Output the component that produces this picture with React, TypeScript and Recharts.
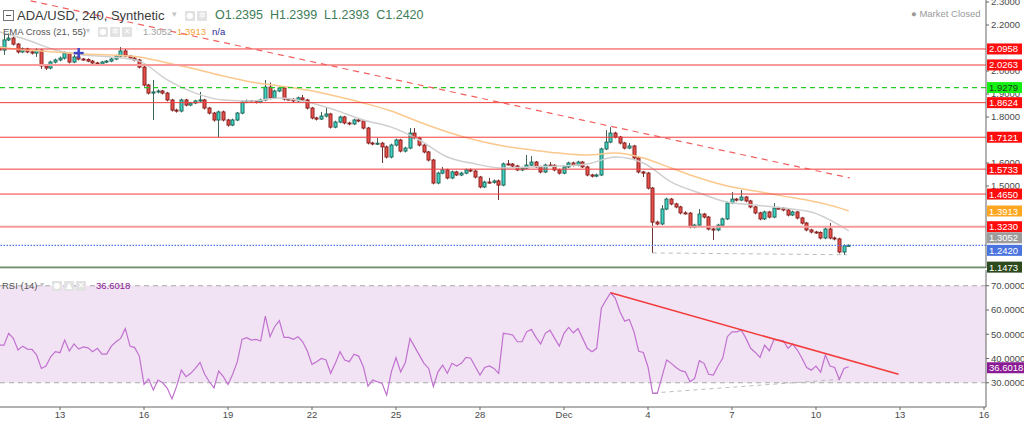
import React from "react";
import {
  ComposedChart,
  Bar,
  Line,
  XAxis,
  YAxis,
  ReferenceLine,
  ReferenceArea,
  ReferenceDot,
} from "recharts";

const FONT = "'Liberation Sans', Arial, sans-serif";

// time axis in days of November (Dec 1 = 31), one candle every 240 minutes
const START_DAY = 10 + 20 / 24;
const BAR_DAYS = 4 / 24;
const dayTicks = [13, 16, 19, 22, 25, 28, 31, 34, 37, 40, 43, 46];
// only the price ticks the scale shows (the others sit under price tags)
const priceTicks = [1.5, 1.6, 1.8, 1.9, 2.0, 2.2, 2.3];
const rsiTicks = [30, 40, 50, 60, 70];

// continuous market: each open is the previous close
const firstOpen = 2.104;
const closes = [
  2.091, 2.135, 2.143, 2.117, 2.083, 2.096, 2.083, 2.078, 2.091, 2.022,
  2.013, 2.039, 2.048, 2.056, 2.078, 2.039, 2.061, 2.052, 2.05, 2.043,
  2.035, 2.03, 2.039, 2.043, 2.052, 2.065, 2.087, 2.065, 2.056, 2.048,
  2.017, 1.939, 1.904, 1.909, 1.913, 1.904, 1.874, 1.83, 1.826, 1.874,
  1.852, 1.861, 1.87, 1.874, 1.839, 1.817, 1.787, 1.822, 1.787, 1.765,
  1.787, 1.817, 1.865, 1.87, 1.868, 1.865, 1.874, 1.93, 1.883, 1.913,
  1.926, 1.878, 1.877, 1.87, 1.883, 1.874, 1.839, 1.796, 1.791, 1.804,
  1.813, 1.756, 1.778, 1.8, 1.774, 1.77, 1.787, 1.783, 1.752, 1.687,
  1.683, 1.686, 1.67, 1.626, 1.678, 1.7, 1.652, 1.665, 1.73, 1.709,
  1.678, 1.648, 1.613, 1.513, 1.556, 1.57, 1.535, 1.561, 1.548, 1.556,
  1.57, 1.565, 1.539, 1.496, 1.517, 1.516, 1.522, 1.504, 1.596, 1.595,
  1.587, 1.57, 1.578, 1.591, 1.604, 1.583, 1.561, 1.591, 1.59, 1.57,
  1.556, 1.583, 1.6, 1.591, 1.604, 1.583, 1.548, 1.543, 1.548, 1.661,
  1.691, 1.73, 1.713, 1.687, 1.665, 1.674, 1.622, 1.561, 1.556, 1.491,
  1.343, 1.335, 1.4, 1.443, 1.422, 1.409, 1.383, 1.382, 1.322, 1.33,
  1.378, 1.365, 1.313, 1.309, 1.33, 1.357, 1.426, 1.443, 1.439, 1.452,
  1.435, 1.409, 1.383, 1.357, 1.387, 1.365, 1.404, 1.403, 1.396, 1.374,
  1.387, 1.361, 1.339, 1.309, 1.3, 1.298, 1.274, 1.313, 1.274, 1.27,
  1.213, 1.24, 1.242,
];
const highs = [
  2.11, 2.157, 2.165, 2.15, 2.122, 2.102, 2.101, 2.089, 2.098, 2.096,
  2.028, 2.045, 2.054, 2.063, 2.087, 2.083, 2.07, 2.066, 2.057, 2.055,
  2.048, 2.04, 2.044, 2.048, 2.058, 2.072, 2.104, 2.095, 2.07, 2.061,
  2.053, 2.022, 1.944, 1.961, 1.92, 1.918, 1.909, 1.879, 1.836, 1.88,
  1.879, 1.866, 1.875, 1.909, 1.879, 1.844, 1.822, 1.828, 1.828, 1.792,
  1.793, 1.822, 1.871, 1.876, 1.874, 1.872, 1.88, 1.961, 1.95, 1.919,
  1.932, 1.931, 1.883, 1.882, 1.889, 1.896, 1.879, 1.844, 1.801, 1.822,
  1.839, 1.818, 1.784, 1.806, 1.805, 1.779, 1.793, 1.792, 1.788, 1.757,
  1.692, 1.709, 1.692, 1.676, 1.684, 1.706, 1.705, 1.671, 1.752, 1.752,
  1.714, 1.683, 1.653, 1.618, 1.562, 1.583, 1.575, 1.567, 1.566, 1.562,
  1.576, 1.576, 1.57, 1.544, 1.523, 1.535, 1.528, 1.528, 1.602, 1.613,
  1.6, 1.592, 1.584, 1.635, 1.63, 1.609, 1.588, 1.597, 1.604, 1.595,
  1.575, 1.589, 1.606, 1.606, 1.61, 1.609, 1.588, 1.553, 1.554, 1.667,
  1.743, 1.756, 1.736, 1.718, 1.692, 1.687, 1.679, 1.627, 1.566, 1.561,
  1.496, 1.349, 1.417, 1.449, 1.448, 1.427, 1.414, 1.39, 1.387, 1.336,
  1.4, 1.383, 1.37, 1.318, 1.336, 1.363, 1.432, 1.474, 1.448, 1.483,
  1.457, 1.44, 1.414, 1.388, 1.393, 1.392, 1.426, 1.41, 1.408, 1.401,
  1.393, 1.392, 1.366, 1.344, 1.314, 1.305, 1.303, 1.319, 1.339, 1.28,
  1.275, 1.246, 1.246,
];
const lows = [
  2.085, 2.07, 2.13, 2.111, 2.076, 2.078, 2.077, 2.072, 2.061, 2.009,
  2.004, 2.007, 2.033, 2.042, 2.05, 2.033, 2.034, 2.046, 2.044, 2.038,
  2.03, 2.024, 2.024, 2.034, 2.038, 2.047, 2.06, 2.06, 2.05, 2.042,
  2.011, 1.932, 1.898, 1.787, 1.903, 1.898, 1.868, 1.824, 1.819, 1.82,
  1.846, 1.847, 1.856, 1.865, 1.833, 1.811, 1.78, 1.713, 1.781, 1.758,
  1.76, 1.782, 1.812, 1.86, 1.862, 1.859, 1.86, 1.869, 1.877, 1.878,
  1.908, 1.872, 1.872, 1.864, 1.865, 1.869, 1.833, 1.79, 1.785, 1.787,
  1.798, 1.75, 1.751, 1.773, 1.768, 1.764, 1.765, 1.777, 1.746, 1.681,
  1.677, 1.678, 1.6, 1.62, 1.62, 1.672, 1.646, 1.646, 1.66, 1.703,
  1.672, 1.642, 1.607, 1.507, 1.508, 1.551, 1.529, 1.53, 1.543, 1.543,
  1.551, 1.56, 1.533, 1.49, 1.491, 1.511, 1.51, 1.439, 1.499, 1.589,
  1.582, 1.565, 1.565, 1.573, 1.586, 1.578, 1.555, 1.556, 1.585, 1.564,
  1.55, 1.551, 1.578, 1.585, 1.586, 1.578, 1.542, 1.537, 1.538, 1.543,
  1.656, 1.686, 1.707, 1.681, 1.659, 1.66, 1.616, 1.555, 1.539, 1.485,
  1.209, 1.329, 1.33, 1.395, 1.416, 1.403, 1.377, 1.376, 1.316, 1.316,
  1.325, 1.359, 1.307, 1.265, 1.303, 1.325, 1.352, 1.421, 1.433, 1.434,
  1.429, 1.403, 1.377, 1.351, 1.352, 1.359, 1.36, 1.397, 1.39, 1.368,
  1.369, 1.355, 1.333, 1.303, 1.294, 1.292, 1.268, 1.269, 1.268, 1.264,
  1.207, 1.2, 1.238,
];
const rsi14 = [
  45.5, 45.5, 50.4, 48.3, 43.5, 45.1, 43.9, 43.8, 41.4, 35.9,
  36.9, 40.7, 42.8, 42.4, 47.6, 43.1, 46.0, 43.9, 44.8, 44.4,
  42.8, 44.2, 41.8, 41.8, 45.1, 46.9, 48.3, 52.4, 45.1, 44.5,
  41.0, 29.3, 31.5, 27.0, 31.1, 30.0, 27.7, 23.3, 28.6, 35.2,
  32.5, 33.9, 35.9, 38.4, 33.5, 30.4, 27.9, 34.8, 32.5, 29.3,
  33.5, 38.7, 47.9, 48.6, 47.6, 47.9, 47.2, 57.5, 49.0, 53.1,
  55.6, 48.7, 48.7, 47.9, 49.0, 46.9, 43.1, 37.6, 38.7, 40.0,
  39.4, 33.9, 38.0, 42.8, 39.4, 38.7, 41.8, 41.0, 36.6, 28.6,
  31.1, 30.4, 29.8, 24.9, 34.5, 40.3, 34.5, 38.3, 48.3, 44.8,
  41.4, 38.0, 35.9, 28.4, 34.5, 37.3, 33.9, 38.0, 36.9, 38.0,
  40.5, 40.1, 36.6, 33.2, 36.3, 36.9, 35.9, 33.9, 50.4, 50.1,
  49.7, 46.9, 46.9, 51.0, 52.0, 48.7, 46.0, 50.4, 51.7, 48.3,
  45.1, 50.4, 52.8, 50.6, 52.4, 48.3, 44.2, 42.8, 44.2, 60.7,
  64.1, 67.1, 64.8, 59.3, 55.4, 56.1, 51.0, 43.0, 42.5, 36.5,
  25.6, 25.6, 32.5, 39.4, 38.0, 36.3, 35.0, 34.5, 30.4, 31.8,
  39.1, 38.0, 33.5, 33.2, 36.9, 40.1, 49.0, 51.0, 51.0, 51.7,
  48.3, 44.2, 42.5, 40.5, 45.5, 43.2, 47.9, 47.6, 47.3, 44.2,
  46.0, 43.5, 40.1, 36.3, 35.2, 36.9, 34.4, 41.4, 36.9, 36.3,
  31.4, 35.9, 36.6,
];

// EMA readings, taken every sixth candle
const emaAt = [
  0, 6, 12, 18, 24, 30, 36, 42, 48, 54, 60, 66, 72, 78, 84, 90,
  96, 102, 108, 114, 120, 126, 132, 138, 144, 150, 156, 162, 168, 174, 180, 182,
];
const ema21 = [
  2.17, 2.135, 2.091, 2.07, 2.061, 2.043, 1.961, 1.904, 1.874, 1.87, 1.883, 1.865, 1.83, 1.787, 1.756, 1.7,
  1.626, 1.596, 1.578, 1.583, 1.587, 1.596, 1.626, 1.6, 1.517, 1.47, 1.43, 1.417, 1.404, 1.387, 1.33, 1.3052,
];
const ema55 = [
  2.104, 2.091, 2.083, 2.074, 2.07, 2.061, 2.035, 2.009, 1.978, 1.952, 1.935, 1.917, 1.891, 1.861, 1.826, 1.778,
  1.735, 1.7, 1.674, 1.657, 1.643, 1.635, 1.643, 1.622, 1.578, 1.535, 1.5, 1.478, 1.456, 1.435, 1.405, 1.3913,
];

const redLevels = [2.0958, 1.8624, 1.7121, 1.5733, 1.465];
const pinkLevels = [2.0263, 1.323];
const greenLevel = 1.9279;
const lastPrice = 1.242;
const baseLevel = 1.1473;
const lastRsi = 36.6018;
const emaCross = { day: 13.667, price: 2.078 };

// trend lines as (day, value) end points
const priceTrend = [{ x: 11.95, y: 2.305 }, { x: 41.21, y: 1.535 }];
const priceSupport = [{ x: 34.17, y: 1.209 }, { x: 41.1, y: 1.201 }];
const rsiTrend = [{ x: 32.667, y: 67.1 }, { x: 42.95, y: 33.5 }];
const rsiSupport = [{ x: 34.2, y: 25.8 }, { x: 40.85, y: 31.4 }];

const W = 1024;
const H_MAIN = 268;
const H_RSI = 154;
const AXIS_W = 38;
const X_MIN = 13 - 60 / 28;
const X_MAX = 13 + 926 / 28;
const PRICE_DOMAIN: [number, number] = [1.1435, 2.3087];
const RSI_DOMAIN: [number, number] = [20, 76.5];

const candles = closes.map((c, i) => ({
  t: START_DAY + i * BAR_DAYS,
  open: i === 0 ? firstOpen : closes[i - 1],
  close: c,
  high: highs[i],
  low: lows[i],
  range: [lows[i], highs[i]],
  rsi: rsi14[i],
}));
const emaData = emaAt.map((k, j) => ({
  t: START_DAY + k * BAR_DAYS,
  e21: ema21[j],
  e55: ema55[j],
}));

const dayLabel = (d: number) => (d === 31 ? "Dec" : d > 31 ? String(d - 30) : String(d));

function Candle(props: any) {
  const { x, y, width, height, payload } = props;
  if (!payload || x == null || y == null) return null;
  const top = height < 0 ? y + height : y;
  const h = Math.abs(height);
  const { open, close, high, low } = payload;
  const span = high - low || 1e-6;
  const py = (v: number) => top + ((high - v) / span) * h;
  const up = close >= open;
  const cx = Math.round(x + width / 2) + 0.5;
  const bTop = py(Math.max(open, close));
  const bH = Math.max(1, py(Math.min(open, close)) - bTop);
  return (
    <g>
      <line x1={cx} x2={cx} y1={top} y2={top + h} stroke={up ? "#3b6657" : "#6e3434"} strokeWidth={1} />
      <rect
        x={cx - 1.5}
        y={bTop}
        width={3}
        height={bH}
        fill={up ? "#3fd5c6" : "#e5504b"}
        stroke={up ? "#21695a" : "#8c2424"}
        strokeWidth={1}
      />
    </g>
  );
}

// price-scale tag; dy pushes a tag down when it would collide with its neighbour
const tag = (text: string, bg: string, fg = "#fff", dy = 0, w = AXIS_W - 3) => (p: any) => {
  const vb = p && p.viewBox;
  if (!vb) return null;
  const x0 = vb.x + vb.width + 1;
  const cy = vb.y + dy;
  return (
    <g>
      <rect x={x0} y={cy - 5.5} width={w} height={11} fill={bg} />
      <text x={x0 + 2} y={cy + 3.5} fontSize={9.5} fill={fg} fontFamily={FONT}>
        {text}
      </text>
    </g>
  );
};

function Cross(props: any) {
  const { cx, cy } = props;
  if (cx == null) return null;
  return (
    <g stroke="#3f46c8" strokeWidth={2.5}>
      <line x1={cx - 5} x2={cx + 5} y1={cy} y2={cy} />
      <line x1={cx} x2={cx} y1={cy - 5} y2={cy + 5} />
    </g>
  );
}

function Icon({ left, top, glyph }: { left: number; top: number; glyph: string }) {
  return (
    <div
      style={{
        position: "absolute",
        left,
        top,
        width: 10,
        height: 10,
        background: "#e2e2e2",
        borderRadius: 1,
        color: "#fff",
        fontSize: 8,
        lineHeight: "10px",
        textAlign: "center",
        fontFamily: "'DejaVu Sans', sans-serif",
      }}
    >
      {glyph}
    </div>
  );
}

const txt = (left: number, top: number, size: number, color: string): React.CSSProperties => ({
  position: "absolute",
  left,
  top,
  fontSize: size,
  lineHeight: `${size + 2}px`,
  color,
  whiteSpace: "nowrap",
  fontFamily: FONT,
});

const overlay: React.CSSProperties = { position: "absolute", left: 0, pointerEvents: "none" };

export default function App() {
  const tickStyle = { fontSize: 9.5, fill: "#4a4a4a", fontFamily: FONT };
  const lastE55 = ema55[ema55.length - 1];
  const lastE21 = ema21[ema21.length - 1];
  return (
    <div style={{ position: "absolute", left: 0, top: 0, width: W, height: 422, background: "#fff", overflow: "hidden" }}>
      {/* price pane */}
      <div style={{ position: "absolute", left: 0, top: 0 }}>
        <ComposedChart width={W} height={H_MAIN} data={candles} margin={{ top: 0, right: 0, bottom: 0, left: 0 }}>
          <XAxis dataKey="t" type="number" domain={[X_MIN, X_MAX]} allowDataOverflow hide />
          <YAxis
            orientation="right"
            width={AXIS_W}
            domain={PRICE_DOMAIN}
            allowDataOverflow
            ticks={priceTicks}
            interval={0}
            tickFormatter={(v: number) => v.toFixed(4)}
            tick={tickStyle}
            tickSize={3}
            tickMargin={2}
            stroke="#666"
          />
          <Bar dataKey="range" shape={<Candle />} barSize={4} isAnimationActive={false} />
          <Line data={emaData} dataKey="e21" type="monotone" stroke="#cfcfcf" strokeWidth={1.5} dot={false} isAnimationActive={false} />
          <Line data={emaData} dataKey="e55" type="monotone" stroke="#fbc88e" strokeWidth={1.5} dot={false} isAnimationActive={false} />
          {redLevels.map((v) => (
            <ReferenceLine key={v} y={v} stroke="#f33b3b" strokeWidth={1} />
          ))}
          {pinkLevels.map((v) => (
            <ReferenceLine key={v} y={v} stroke="#f79a9a" strokeWidth={2} />
          ))}
          <ReferenceLine y={greenLevel} stroke="#22cc22" strokeWidth={1.3} strokeDasharray="5 4" />
          <ReferenceLine y={lastPrice} stroke="#4d74ec" strokeWidth={1.3} strokeDasharray="1.5 1.5" />
          <ReferenceLine y={baseLevel} stroke="#6f9163" strokeWidth={1.5} />
          <ReferenceLine segment={priceTrend} ifOverflow="visible" stroke="#f26060" strokeWidth={1.2} strokeDasharray="6 5" />
          <ReferenceLine segment={priceSupport} ifOverflow="visible" stroke="#b9b9b9" strokeDasharray="4 4" />
          <ReferenceDot x={emaCross.day} y={emaCross.price} r={5} shape={<Cross />} ifOverflow="visible" />
        </ComposedChart>
      </div>

      <div style={{ position: "absolute", left: 0, top: 268, width: 986, height: 1, background: "#d6d6d6" }} />

      {/* RSI pane */}
      <div style={{ position: "absolute", left: 0, top: H_MAIN }}>
        <ComposedChart width={W} height={H_RSI} data={candles} margin={{ top: 2, right: 0, bottom: 0, left: 0 }}>
          <XAxis
            dataKey="t"
            type="number"
            domain={[X_MIN, X_MAX]}
            allowDataOverflow
            ticks={dayTicks}
            interval={0}
            tickFormatter={dayLabel}
            tick={tickStyle}
            tickSize={3}
            tickMargin={1}
            height={15}
            stroke="#666"
          />
          <YAxis
            orientation="right"
            width={AXIS_W}
            domain={RSI_DOMAIN}
            allowDataOverflow
            ticks={rsiTicks}
            interval={0}
            tickFormatter={(v: number) => v.toFixed(4)}
            tick={tickStyle}
            tickSize={3}
            tickMargin={2}
            stroke="#666"
          />
          <ReferenceArea y1={30} y2={70} fill="#f1e3f3" fillOpacity={1} stroke="none" />
          <ReferenceLine y={70} stroke="#aaa" strokeDasharray="5 4" />
          <ReferenceLine y={30} stroke="#aaa" strokeDasharray="5 4" />
          <ReferenceLine segment={rsiSupport} ifOverflow="visible" stroke="#bdbdbd" strokeDasharray="4 4" />
          <Line dataKey="rsi" type="linear" stroke="#c171d0" strokeWidth={1.2} dot={false} isAnimationActive={false} />
          <ReferenceLine segment={rsiTrend} ifOverflow="visible" stroke="#f23c3c" strokeWidth={1.5} />
        </ComposedChart>
      </div>

      {/* price tags drawn on top of the scales */}
      <div style={{ ...overlay, top: 0 }}>
        <ComposedChart width={W} height={H_MAIN + 14} data={candles} margin={{ top: 0, right: AXIS_W, bottom: 14, left: 0 }}>
          <XAxis dataKey="t" type="number" domain={[X_MIN, X_MAX]} allowDataOverflow hide />
          <YAxis domain={PRICE_DOMAIN} allowDataOverflow hide />
          {[...redLevels, ...pinkLevels].map((v) => (
            <ReferenceLine key={v} y={v} stroke="none" label={tag(v.toFixed(4), "#ff0d0d")} />
          ))}
          <ReferenceLine y={greenLevel} stroke="none" label={tag(greenLevel.toFixed(4), "#14f014", "#1c3d1c")} />
          <ReferenceLine y={lastE55} stroke="none" label={tag(lastE55.toFixed(4), "#ffa620")} />
          <ReferenceLine y={lastE21} stroke="none" label={tag(lastE21.toFixed(4), "#9c9c9c", "#fff", 7)} />
          <ReferenceLine y={lastPrice} stroke="none" label={tag(lastPrice.toFixed(4), "#4a73e0", "#fff", 5)} />
          <ReferenceLine y={baseLevel} stroke="none" label={tag(baseLevel.toFixed(4), "#2c4a1c")} />
        </ComposedChart>
      </div>
      <div style={{ ...overlay, top: H_MAIN }}>
        <ComposedChart width={W} height={H_RSI} data={candles} margin={{ top: 2, right: AXIS_W, bottom: 15, left: 0 }}>
          <XAxis dataKey="t" type="number" domain={[X_MIN, X_MAX]} allowDataOverflow hide />
          <YAxis domain={RSI_DOMAIN} allowDataOverflow hide />
          <ReferenceLine y={lastRsi} stroke="none" label={tag(lastRsi.toFixed(4), "#8b1a95", "#fff", 1, AXIS_W - 1)} />
        </ComposedChart>
      </div>

      {/* legend rows */}
      <div style={{ position: "absolute", left: 3, top: 10, width: 9, height: 9, border: "1px solid #777" }}>
        <div style={{ position: "absolute", left: 2, top: 4, width: 5, height: 1, background: "#555" }} />
      </div>
      <div style={txt(17, 8, 13, "#3b3b3b")}>ADA/USD, 240, Synthetic</div>
      <div style={txt(172, 9, 9, "#c4c4c4")}>▾</div>
      <Icon left={185} top={11} glyph="●" />
      <Icon left={197} top={11} glyph="✲" />
      <div style={txt(215, 8, 12.5, "#3e7d57")}>
        O1.2395&nbsp;&nbsp;H1.2399&nbsp;&nbsp;L1.2393&nbsp;&nbsp;C1.2420
      </div>

      <div style={txt(3, 26, 9.5, "#555")}>EMA Cross (21, 55)</div>
      <div style={txt(86, 26, 8, "#c4c4c4")}>▾</div>
      <Icon left={98} top={27} glyph="●" />
      <Icon left={110} top={27} glyph="✲" />
      <Icon left={122} top={27} glyph="✕" />
      <div style={txt(143, 26, 9.5, "#a3a3a3")}>1.3052</div>
      <div style={txt(177, 26, 9.5, "#f7a23a")}>1.3913</div>
      <div style={txt(212, 26, 9.5, "#2a2a9a")}>n/a</div>

      <div style={txt(911, 8, 9.5, "#9a9a9a")}>● Market Closed</div>

      <div style={txt(2, 280, 9.5, "#555")}>RSI (14)</div>
      <div style={txt(40, 280, 8, "#c4c4c4")}>▾</div>
      <Icon left={52} top={281} glyph="●" />
      <Icon left={64} top={281} glyph="▲" />
      <Icon left={76} top={281} glyph="✕" />
      <div style={txt(96, 280, 9.5, "#8b1a95")}>36.6018</div>
    </div>
  );
}
